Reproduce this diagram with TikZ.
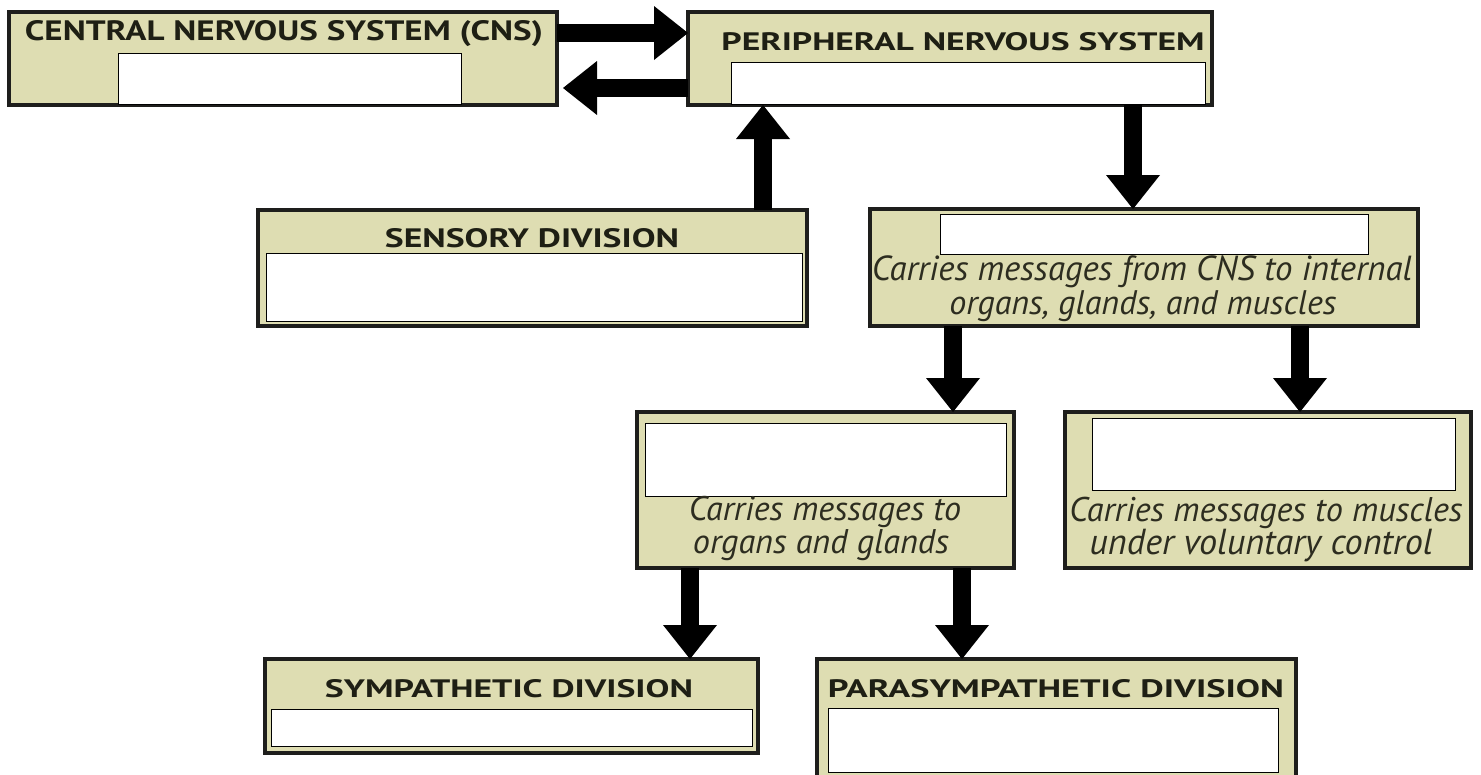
\documentclass[tikz,border=0pt]{standalone}
\usepackage{graphicx}
\usepackage{fontspec}
\setmainfont{PT Sans}
\usetikzlibrary{arrows.meta}
\definecolor{boxfill}{RGB}{222,221,178}
\definecolor{boxline}{RGB}{30,30,28}
\definecolor{txt}{RGB}{30,31,20}
\definecolor{itxt}{RGB}{45,45,32}
\tikzset{
  bx/.style={draw=boxline, line width=4pt, fill=boxfill, inner sep=0pt, outer sep=0pt},
  wbox/.style={draw=black, line width=1pt, fill=white, inner sep=0pt, outer sep=0pt},
  ttl/.style={anchor=base, inner sep=0pt, text=txt},
  itl/.style={anchor=base, inner sep=0pt, text=itxt, font=\itshape},
  arr/.style={line width=18pt, black, -{Triangle[width=54pt,length=34pt,line width=0pt]}}
}
\begin{document}
\begin{tikzpicture}[x=1pt,y=-1pt]
\useasboundingbox (0,0) rectangle (1481,774);
% outer boxes
\node[bx, minimum width=548pt, minimum height=93pt] (cns) at (283,58.5) {};
\node[bx, minimum width=524pt, minimum height=93pt] (pns) at (950,58.5) {};
\node[bx, minimum width=549pt, minimum height=116pt] (sens) at (532.5,268) {};
\node[bx, minimum width=548pt, minimum height=117pt] (auto) at (1144,267.5) {};
\node[bx, minimum width=377pt, minimum height=156pt] (aut2) at (825.5,490) {};
\node[bx, minimum width=406pt, minimum height=156pt] (som) at (1268,490) {};
\node[bx, minimum width=493pt, minimum height=94pt] (sym) at (511.5,706) {};
\node[bx, minimum width=479pt, minimum height=121pt] (para) at (1056.5,719.5) {};
% white inner boxes
\node[wbox, minimum width=343pt, minimum height=51pt] (cnsw) at (289.5,78.5) {};
\node[wbox, minimum width=474pt, minimum height=42pt] (pnsw) at (968,83) {};
\node[wbox, minimum width=536pt, minimum height=68pt] (sensw) at (534,287) {};
\node[wbox, minimum width=428pt, minimum height=40pt] (autow) at (1154,234) {};
\node[wbox, minimum width=361pt, minimum height=73pt] (aut2w) at (825.5,459.5) {};
\node[wbox, minimum width=363pt, minimum height=72pt] (somw) at (1273.5,454) {};
\node[wbox, minimum width=481pt, minimum height=37pt] (symw) at (511.5,727.5) {};
\node[wbox, minimum width=450pt, minimum height=64pt] (paraw) at (1053,740) {};
% titles
\node[ttl] (cnst) at (284,40) {\resizebox{518pt}{20pt}{\bfseries CENTRAL NERVOUS SYSTEM (CNS)}};
\node[ttl] (pnst) at (963,50) {\resizebox{483pt}{18pt}{\bfseries PERIPHERAL NERVOUS SYSTEM}};
\node[ttl] (senst) at (532,247) {\resizebox{294pt}{19pt}{\bfseries SENSORY DIVISION}};
\node[ttl] (symt) at (509,697) {\resizebox{368pt}{18pt}{\bfseries SYMPATHETIC DIVISION}};
\node[ttl] (parat) at (1056,697) {\resizebox{456pt}{18pt}{\bfseries PARASYMPATHETIC DIVISION}};
% italic texts
\node[itl] (autoa) at (1142,280) {\resizebox{540pt}{!}{Carries messages from CNS to internal}};
\node[itl] (autob) at (1143,314) {\resizebox{387pt}{!}{organs, glands, and muscles}};
\node[itl] (aut2a) at (825,520) {\resizebox{272pt}{!}{Carries messages to}};
\node[itl] (aut2b) at (821,553) {\resizebox{256pt}{!}{organs and glands}};
\node[itl] (soma) at (1266,521) {\resizebox{393pt}{!}{Carries messages to muscles}};
\node[itl] (somb) at (1261,554) {\resizebox{343pt}{!}{under voluntary control}};
% arrows
\draw[arr] (cns.east |- 0,33) -- (pns.west |- 0,33);
\draw[arr, shorten >=6pt] (pns.west |- 0,88) -- (cns.east |- 0,88);
\draw[arr] (sens.north -| 763,0) -- (pns.south -| 763,0);
\draw[arr] (pns.south -| 1133,0) -- (auto.north -| 1133,0);
\draw[arr] (auto.south -| 953,0) -- (aut2.north -| 953,0);
\draw[arr] (auto.south -| 1300,0) -- (som.north -| 1300,0);
\draw[arr] (aut2.south -| 690,0) -- (sym.north -| 690,0);
\draw[arr] (aut2.south -| 962,0) -- (para.north -| 962,0);
\end{tikzpicture}
\end{document}
